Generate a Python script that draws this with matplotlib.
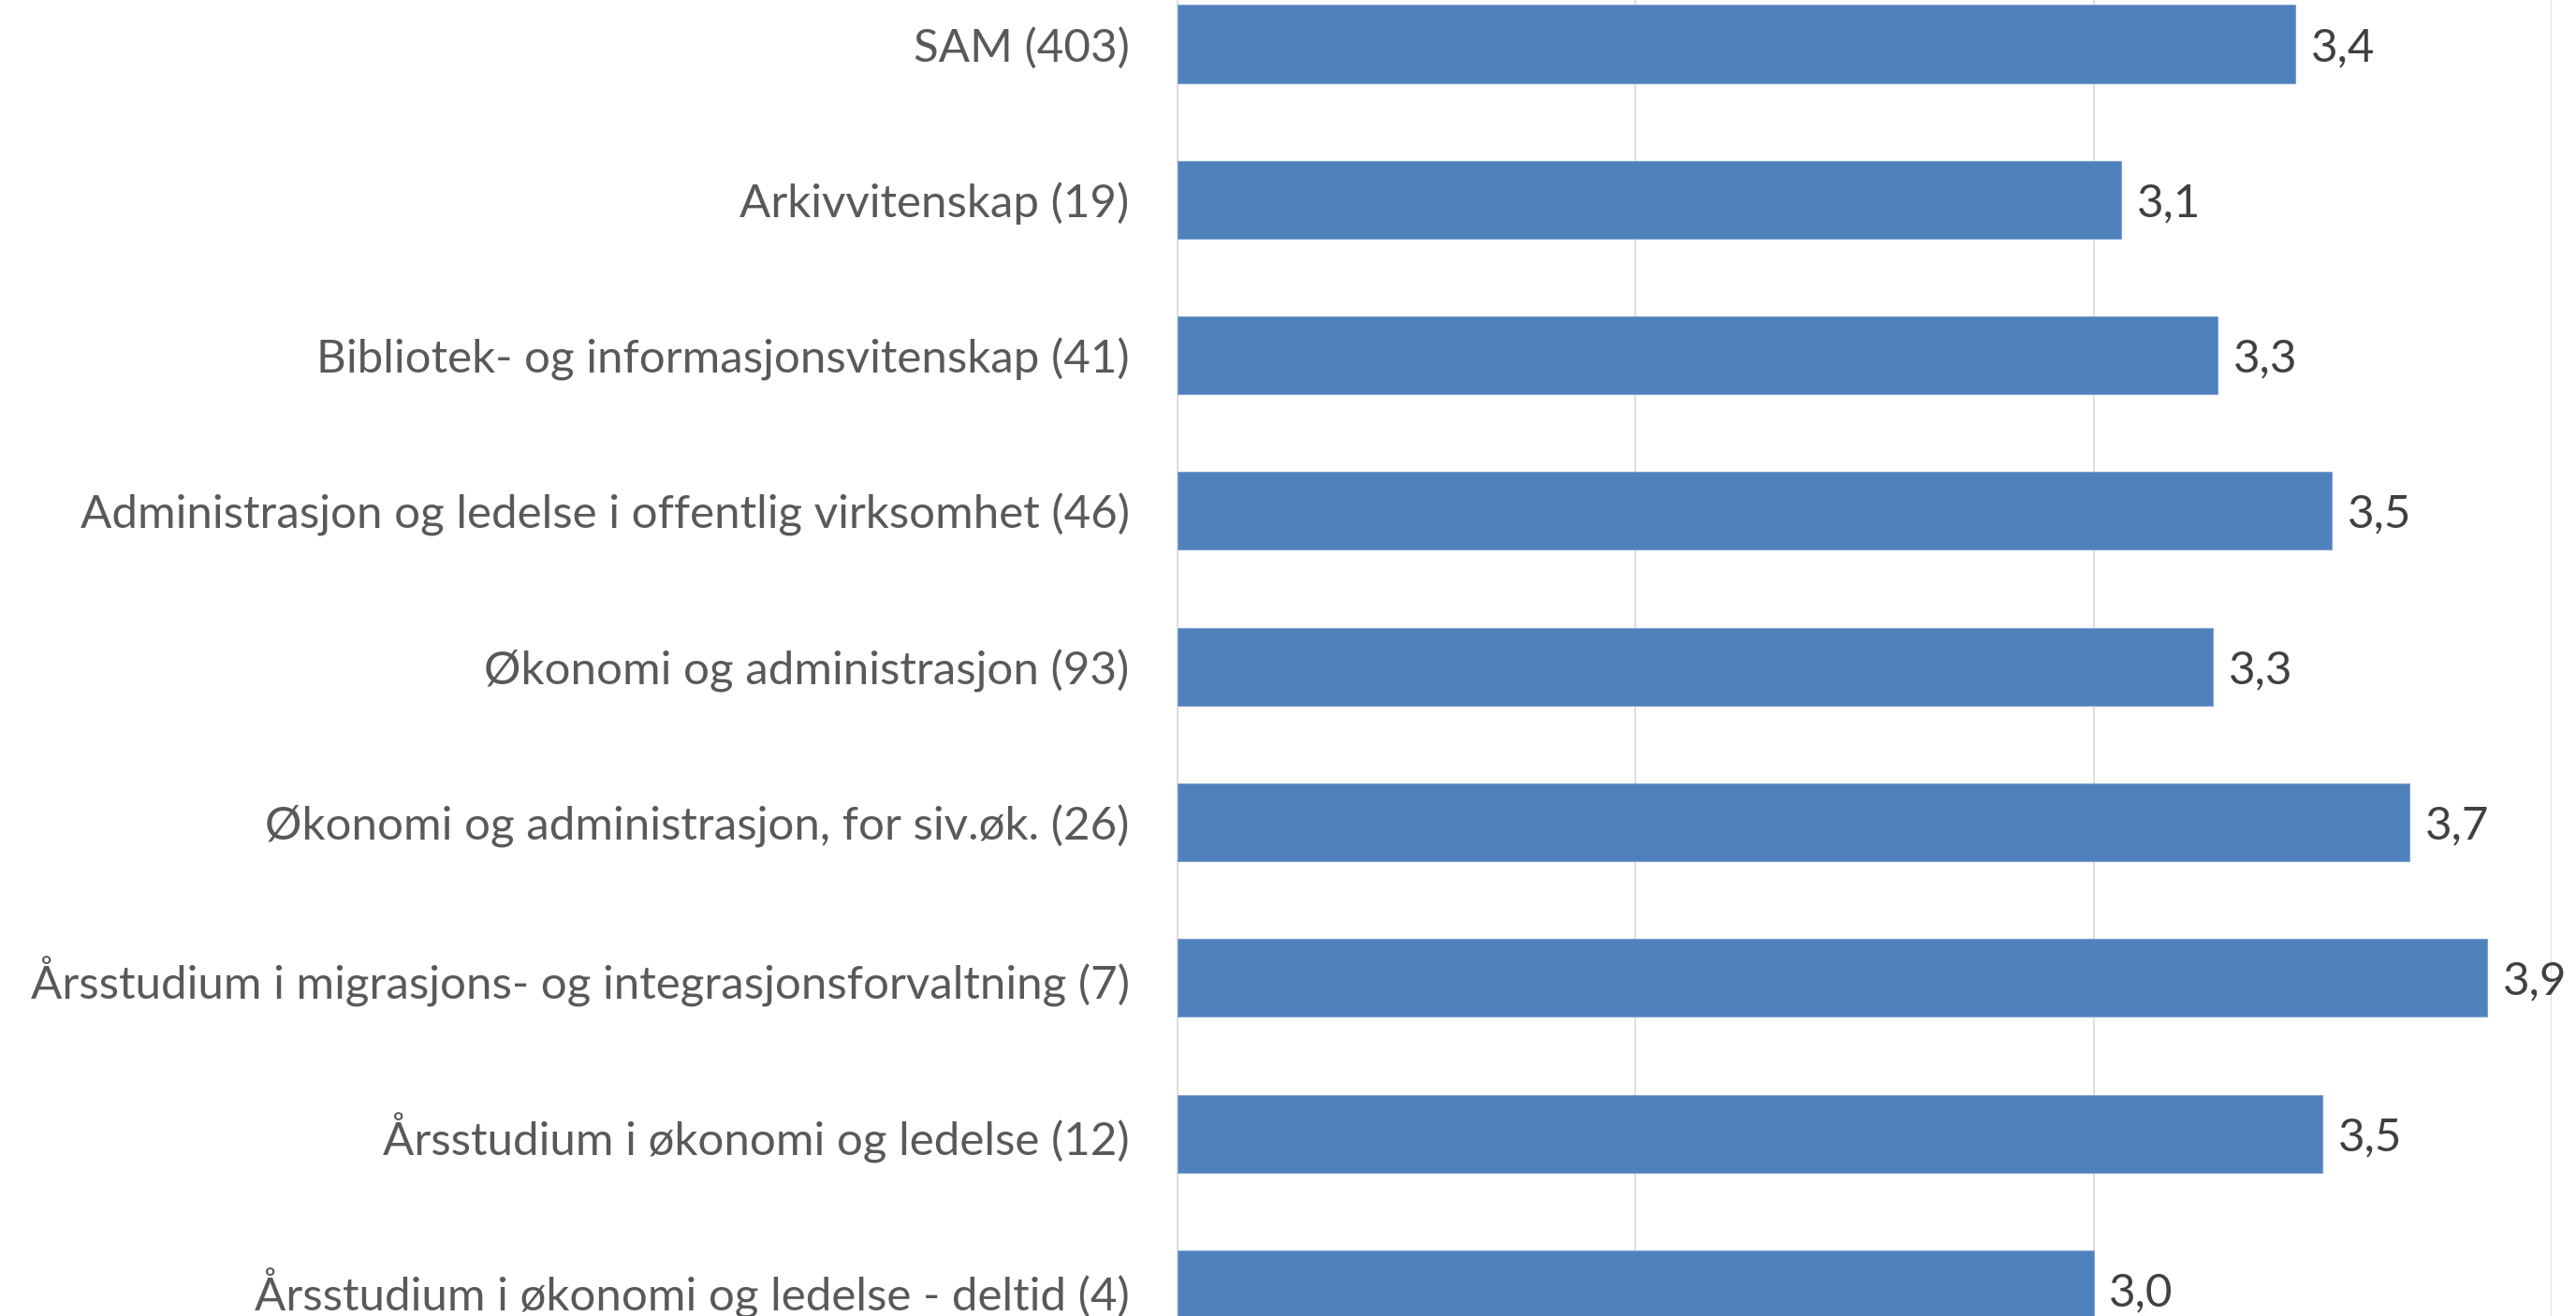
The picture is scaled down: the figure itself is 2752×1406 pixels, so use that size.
import numpy as np
from matplotlib import pyplot as plt

# Categories (top to bottom) and mean scores
kategorier = ["SAM (403)",
              "Arkivvitenskap (19)",
              "Bibliotek- og informasjonsvitenskap (41)",
              "Administrasjon og ledelse i offentlig virksomhet (46)",
              "Økonomi og administrasjon (93)",
              "Økonomi og administrasjon, for siv.øk. (26)",
              "Årsstudium i migrasjons- og integrasjonsforvaltning (7)",
              "Årsstudium i økonomi og ledelse (12)",
              "Årsstudium i økonomi og ledelse - deltid (4)"]
verdier = [3.44, 3.06, 3.27, 3.52, 3.26, 3.69, 3.86, 3.50, 3.00]
xticks = [1, 2, 3, 4]

plt.rcParams['font.family'] = ['Lato', 'DejaVu Sans']

fig = plt.figure(figsize=(27.52, 14.06), dpi=100)
ax = fig.add_axes([1258/2752, 0, (2726-1258)/2752, 1])

ypos = np.arange(len(kategorier))
ax.barh(ypos, [v - 1 for v in verdier], left=1, height=0.5, color="#4F81BD",
        edgecolor="#7EA1CE", linewidth=0.8, zorder=3)

# value labels with decimal comma
for y, v in zip(ypos, verdier):
    ax.annotate(("%.1f" % v).replace(".", ","), xy=(v, y), xytext=(12, 0),
                textcoords="offset points", va="center_baseline", ha="left",
                fontsize=35.5, color="#404040", annotation_clip=False, clip_on=False)

ax.set_xlim(1, 4)
ax.set_ylim((1406 - 47) / 166.3, -47 / 166.3)
ax.set_xticks(xticks)
ax.set_xticklabels([])
ax.grid(axis="x", color="#D9D9D9", linewidth=1.2, zorder=0)
ax.set_yticks(ypos)
ax.set_yticklabels(kategorier, fontsize=35.5, color="#595959")
ax.tick_params(axis="y", length=0, pad=37)
ax.tick_params(axis="x", length=0)
for s in ["top", "right", "bottom"]:
    ax.spines[s].set_visible(False)
ax.spines["left"].set_color("#D9D9D9")
ax.spines["left"].set_linewidth(1.2)

plt.savefig("out.png", dpi=100)
